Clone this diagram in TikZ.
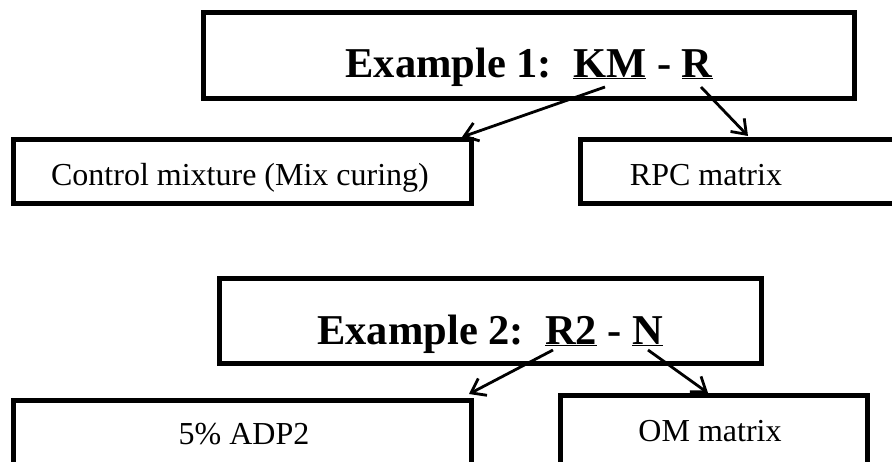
\documentclass[tikz,border=0pt]{standalone}
\usepackage{fontspec}
\setmainfont{Liberation Serif}
\usetikzlibrary{arrows.meta}
\begin{document}
\begin{tikzpicture}[x=1pt,y=-1pt,
  titlebox/.style={draw, line width=5pt, inner sep=0pt},
  subbox/.style={draw, line width=5pt, inner sep=0pt},
  titletext/.style={font=\fontsize{42.5}{50}\selectfont\bfseries, inner sep=0pt, anchor=base},
  subtext/.style={font=\fontsize{32}{38}\selectfont, inner sep=0pt, anchor=base},
  link/.style={line width=2.8pt, -{Straight Barb[length=13pt,width=19pt,line width=2.8pt]}}]
\clip (0,0) rectangle (892,461);
\fill[white] (0,0) rectangle (892,461);
% Example 1
\node[titlebox, minimum width=651pt, minimum height=85.5pt] (t1) at (529,55.25) {};
\node[titletext] (t1txt) at (529,77) {Example 1:\ \ \underline{KM} - \underline{R}};
\node[subbox, minimum width=458pt, minimum height=64pt] (c1) at (242,171) {};
\node[subtext] (c1txt) at (240,185) {Control mixture (Mix curing)};
\node[subbox, minimum width=330pt, minimum height=64pt] (r1) at (745.5,171) {};
\node[subtext] (r1txt) at (706,185) {RPC matrix};
\coordinate (km) at (605,87);
\coordinate (rr) at (701,87);
\coordinate (c1in) at (462,137);
\coordinate (r1in) at (748,136);
\draw[link] (km) -- (c1in);
\draw[link] (rr) -- (r1in);
% Example 2
\node[titlebox, minimum width=542.5pt, minimum height=85pt] (t2) at (490.25,321) {};
\node[titletext] (t2txt) at (490.25,344) {Example 2:\ \ \underline{R2} - \underline{N}};
\node[subbox, minimum width=458pt, minimum height=90pt] (c2) at (242,445.5) {};
\node[subtext] (c2txt) at (244,444) {5\% ADP2};
\node[subbox, minimum width=307pt, minimum height=95pt] (r2) at (713.5,442.5) {};
\node[subtext] (r2txt) at (710,441) {OM matrix};
\coordinate (r2s) at (553,350);
\coordinate (ns) at (648,350);
\coordinate (c2in) at (469,394);
\coordinate (r2in) at (708,393);
\draw[link] (r2s) -- (c2in);
\draw[link] (ns) -- (r2in);
\end{tikzpicture}
\end{document}
